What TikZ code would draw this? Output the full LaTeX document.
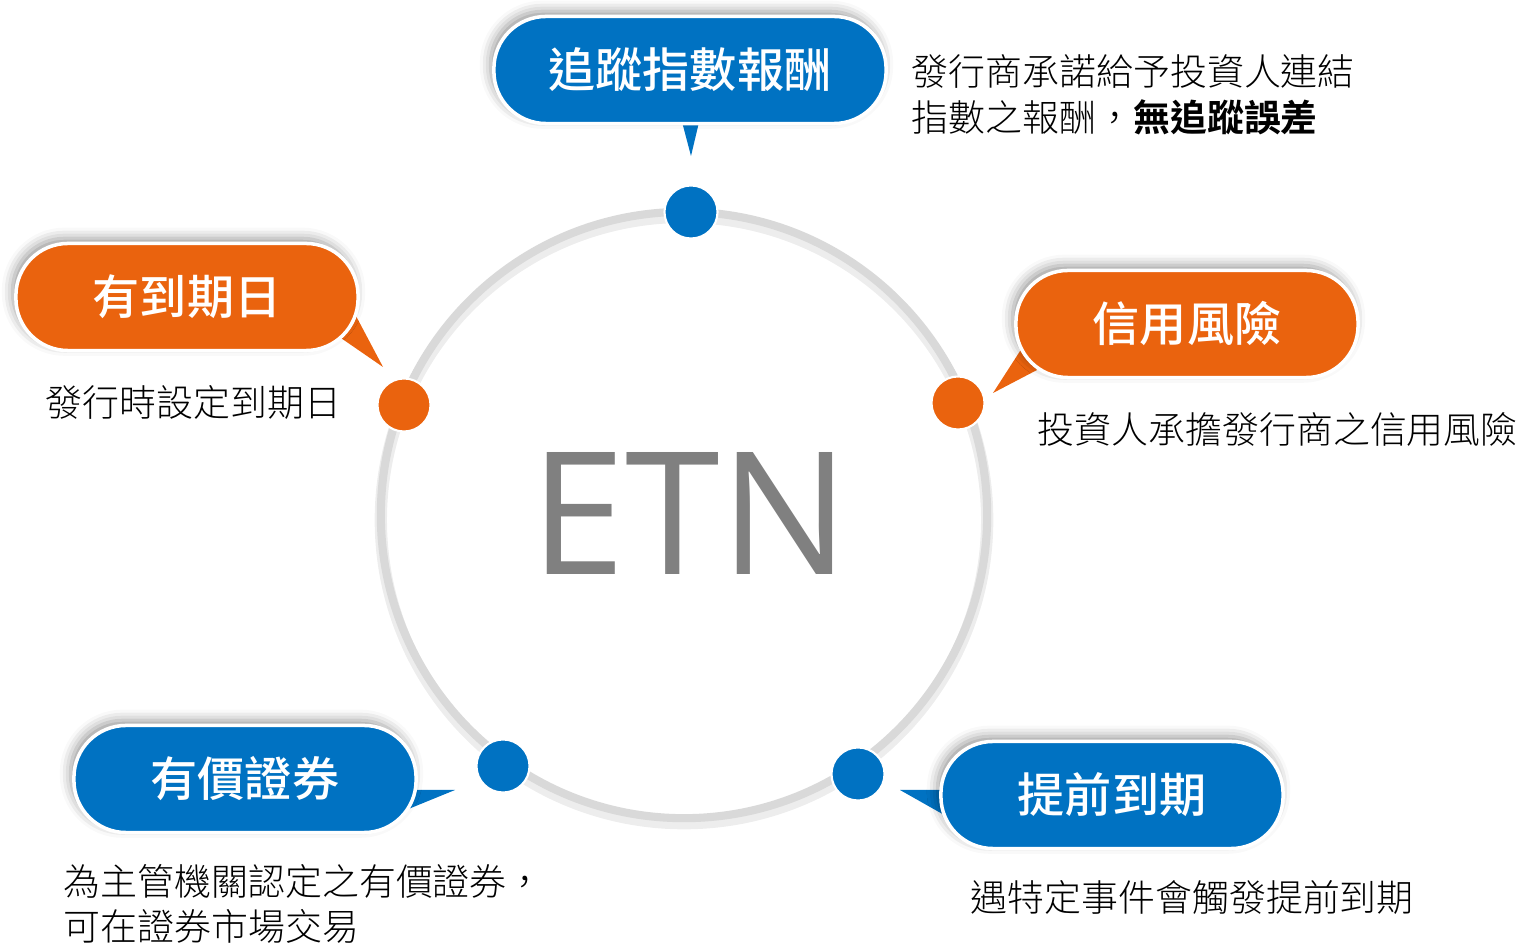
\documentclass[tikz,border=0pt]{standalone}
\usepackage{fontspec}
\setmainfont{Noto Sans CJK TC}[BoldFont={Noto Sans CJK TC Bold}]
\newfontfamily\titlefont{Noto Sans CJK TC Medium}
\newfontfamily\descfont{Noto Sans CJK TC Light}[BoldFont={Noto Sans CJK TC Bold}]
\newfontfamily\etnfont{Open Sans}
\usetikzlibrary{shadows.blur}

\definecolor{etnblue}{RGB}{0,114,194}
\definecolor{etnorange}{RGB}{234,99,14}
\definecolor{ringgray}{RGB}{217,217,217}

\tikzset{
  pill/.style={fill=#1, draw=white, line width=1pt, rounded corners=0.52cm,
    minimum width=3.42cm, minimum height=1.07cm, text=white,
    font=\titlefont\fontsize{13.4}{16}\selectfont,
    blur shadow={shadow xshift=-1pt, shadow yshift=1.5pt, shadow blur radius=3pt}},
  dot/.style={circle, fill=#1, draw=white, line width=0.6pt,
    minimum size=0.53cm, inner sep=0pt},
  desc/.style={anchor=west, align=left, inner sep=0pt, text=black,
    font=\descfont\fontsize{10.5}{13}\selectfont},
}

\begin{document}
\begin{tikzpicture}[x=0.01cm, y=-0.01cm]
\useasboundingbox (0,0) rectangle (1523,943);

% ring
\draw[black!7, line width=3.5pt] (684,520) circle (3.03cm);
\draw[ringgray, line width=2.3pt] (684,515) circle (3.03cm);

\node[font=\etnfont\fontsize{48.6}{50}\selectfont, text=black!50, inner sep=0pt] (etn) at (690,514) {ETN};

\node[dot=etnblue] (dtrk) at (691,212) {};
\node[dot=etnorange] (dmat) at (404,405) {};
\node[dot=etnorange] (dcr) at (958,403) {};
\node[dot=etnblue] (dsec) at (503,766) {};
\node[dot=etnblue] (dcall) at (858,774) {};

% callouts
\fill[etnblue] (681,118) -- (691,156) -- (700,118) -- cycle;
\node[pill=etnblue, minimum width=3.92cm] (trk) at (690,70) {追蹤指數報酬};

\fill[etnorange] (338,336) -- (383,367) -- (356,316) -- cycle;
\node[pill=etnorange] (mat) at (187,297) {有到期日};

\fill[etnorange] (1022,348) -- (993,393) -- (1037,370) -- cycle;
\node[pill=etnorange] (cr) at (1187,324) {信用風險};

\fill[etnblue] (410,790) -- (455,790) -- (406,810) -- cycle;
\node[pill=etnblue] (sec) at (245,779) {有價證券};

\fill[etnblue] (946,790) -- (900,790) -- (946,816) -- cycle;
\node[pill=etnblue] (call) at (1112,795) {提前到期};

% texts
\node[desc] (trkt) at (911,95) {發行商承諾給予投資人連結\\指數之報酬，\textbf{無追蹤誤差}};
\node[desc] (matt) at (45,402) {發行時設定到期日};
\node[desc] (crt) at (1037,429) {投資人承擔發行商之信用風險};
\node[desc] (sect) at (63,904) {為主管機關認定之有價證券，\\可在證券市場交易};
\node[desc] (callt) at (970,897) {遇特定事件會觸發提前到期};

\end{tikzpicture}
\end{document}
